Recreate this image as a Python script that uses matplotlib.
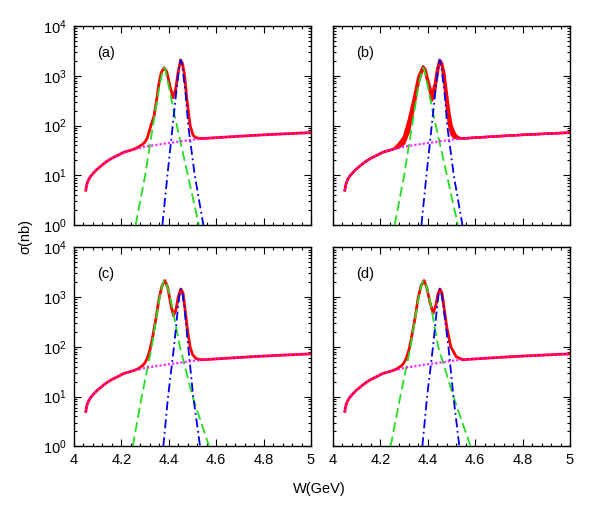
import numpy as np
import matplotlib
matplotlib.use("Agg")
import matplotlib.pyplot as plt
from matplotlib.ticker import FixedLocator, LogLocator, NullFormatter, FuncFormatter

plt.rcParams['font.family'] = ['Liberation Sans', 'DejaVu Sans']
plt.rcParams['mathtext.fontset'] = 'custom'
plt.rcParams['mathtext.rm'] = 'Liberation Sans'
plt.rcParams['mathtext.default'] = 'regular'

# ---------------- data ----------------
panel_labels = ["(a)", "(b)", "(c)", "(d)"]
x_ticks = [4.0, 4.2, 4.4, 4.6, 4.8, 5.0]
x_tick_labels = ["4", "4.2", "4.4", "4.6", "4.8", "5"]

# background (magenta dotted), common to all panels
bkg_W = [4.05, 4.053, 4.057, 4.062, 4.07, 4.08, 4.095, 4.11, 4.125, 4.14, 4.16, 4.18,
         4.21, 4.25, 4.30, 4.35, 4.40, 4.45, 4.50, 4.55, 4.60, 4.70, 4.80, 4.90, 5.00]
bkg_s = [5.0, 6.2, 7.2, 8.2, 9.5, 10.8, 12.9, 14.8, 17.0, 19.2, 22.0, 24.5,
         29.0, 33.0, 37.5, 41.0, 44.5, 48.0, 52.0, 55.0, 57.0, 61.0, 65.0, 68.5, 72.0]

# green dashed resonance
green_a_W = [4.26, 4.30, 4.333, 4.36, 4.375, 4.38, 4.385, 4.40, 4.42, 4.45, 4.485, 4.527]
green_a_s = [1, 9.7, 98, 600, 1300, 1450, 1350, 620, 200, 45, 8, 1]
green_b_W = green_a_W
green_b_s = green_a_s
green_c_W = [4.248, 4.286, 4.328, 4.36, 4.375, 4.383, 4.39, 4.41, 4.447, 4.50, 4.57]
green_c_s = [1, 10, 100, 900, 1900, 2150, 1950, 800, 100, 10, 1]
green_d_W = [4.243, 4.284, 4.327, 4.36, 4.375, 4.384, 4.391, 4.41, 4.444, 4.508, 4.58]
green_d_s = [1, 10, 100, 900, 1900, 2150, 1950, 800, 100, 10, 1]

# blue dash-dot resonance
blue_a_W = [4.373, 4.394, 4.412, 4.43, 4.445, 4.45, 4.455, 4.47, 4.482, 4.51, 4.546]
blue_a_s = [1, 9.7, 62, 400, 1700, 2080, 1800, 500, 100, 9.7, 1]
blue_b_W = blue_a_W
blue_b_s = blue_a_s
blue_c_W = [4.377, 4.397, 4.422, 4.44, 4.447, 4.451, 4.456, 4.465, 4.482, 4.503, 4.532]
blue_c_s = [1, 10, 100, 700, 1300, 1450, 1300, 700, 100, 10, 1]
blue_d_W = [4.377, 4.397, 4.422, 4.44, 4.447, 4.451, 4.456, 4.465, 4.487, 4.508, 4.533]
blue_d_s = [1, 10, 100, 700, 1300, 1450, 1300, 700, 100, 10, 1]

# red total (peak region; joins background outside)
red_a_W = [4.27, 4.29, 4.30, 4.31, 4.316, 4.326, 4.338, 4.347, 4.359, 4.368, 4.38, 4.391,
           4.405, 4.418, 4.429, 4.439, 4.45, 4.458, 4.467, 4.475, 4.49, 4.503, 4.515, 4.531, 4.55]
red_a_s = [36.5, 42, 47, 57, 72, 105, 155, 290, 725, 1150, 1450, 1230,
           620, 363, 535, 1150, 2080, 1750, 1000, 380, 100, 63, 57, 55, 55]

red_b_W = [4.26, 4.28, 4.30, 4.32, 4.34, 4.36, 4.38, 4.39, 4.405, 4.418, 4.43, 4.44,
           4.45, 4.46, 4.47, 4.48, 4.49, 4.50, 4.51, 4.52, 4.535]
red_b_hi = [35, 44, 60, 130, 330, 950, 1550, 1350, 700, 420, 700, 1400,
            2100, 1800, 1100, 450, 190, 100, 75, 62, 56]
red_b_lo = [34, 37, 43, 75, 210, 700, 1400, 1150, 560, 320, 480, 1000,
            2000, 1550, 700, 230, 100, 66, 58, 56, 55]

red_c_W = [4.27, 4.29, 4.30, 4.31, 4.32, 4.33, 4.345, 4.36, 4.372, 4.383, 4.395, 4.41,
           4.42, 4.43, 4.44, 4.451, 4.46, 4.47, 4.48, 4.49, 4.50, 4.515, 4.535]
red_c_s = [36, 42, 48, 60, 85, 140, 350, 1000, 1700, 2150, 1600, 650,
           420, 550, 1000, 1450, 1200, 500, 200, 100, 70, 58, 55]
red_d_W = [4.27, 4.29, 4.30, 4.31, 4.32, 4.33, 4.345, 4.36, 4.372, 4.384, 4.395, 4.41,
           4.423, 4.433, 4.442, 4.451, 4.46, 4.47, 4.48, 4.497, 4.52, 4.547]
red_d_s = [36, 42, 48, 60, 85, 140, 350, 1000, 1700, 2150, 1600, 750,
           475, 650, 1100, 1450, 1200, 550, 250, 100, 63, 55]


def join_total(W, s):
    W = list(W); s = list(s)
    lw = [w for w in bkg_W if w < W[0]]
    ls = [bs for w, bs in zip(bkg_W, bkg_s) if w < W[0]]
    hw = [w for w in bkg_W if w > W[-1]]
    hs = [bs for w, bs in zip(bkg_W, bkg_s) if w > W[-1]]
    return lw + W + hw, ls + s + hs


RED = '#ff0000'
GREEN = '#22dd22'
BLUE = '#0000ee'
MAG = '#ff00ff'
FS = 10.5

fig = plt.figure(figsize=(6.0, 5.25), dpi=100)
W_ax = 0.395
H_ax = 0.379
positions = [(0.1233, 0.5714), (0.555, 0.5714), (0.1233, 0.150), (0.555, 0.150)]

greens = [(green_a_W, green_a_s), (green_b_W, green_b_s), (green_c_W, green_c_s), (green_d_W, green_d_s)]
blues = [(blue_a_W, blue_a_s), (blue_b_W, blue_b_s), (blue_c_W, blue_c_s), (blue_d_W, blue_d_s)]

for i, (x0, y0) in enumerate(positions):
    ax = fig.add_axes([x0, y0, W_ax, H_ax])
    ax.set_yscale('log')
    ax.set_xlim(4.0, 5.0)
    ax.set_ylim(1, 1e4)

    # red total
    if i == 1:
        lw_, lo_ = join_total(red_b_W, red_b_lo)
        _, hi_ = join_total(red_b_W, red_b_hi)
        ax.fill_between(lw_, lo_, hi_, color=RED, lw=0, zorder=2)
        ax.plot(lw_, lo_, color=RED, lw=1.8, zorder=2)
        ax.plot(lw_, hi_, color=RED, lw=1.8, zorder=2)
    else:
        rW, rs = {0: (red_a_W, red_a_s), 2: (red_c_W, red_c_s), 3: (red_d_W, red_d_s)}[i]
        tW, ts = join_total(rW, rs)
        ax.plot(tW, ts, color=RED, lw=2.0, zorder=2)

    gW, gs = greens[i]
    ax.plot(gW, gs, color=GREEN, lw=1.3, ls=(0, (5.5, 2.5)), zorder=3)
    bW, bs = blues[i]
    ax.plot(bW, bs, color=BLUE, lw=1.3, ls=(0, (5, 2, 1, 2)), zorder=3)
    ax.plot(bkg_W, bkg_s, color=MAG, lw=1.6, ls=(0, (1, 0.9)), alpha=0.85, zorder=4)

    ax.text(0.097, 0.864, panel_labels[i], transform=ax.transAxes,
            ha='left', va='center', fontsize=FS)

    ax.xaxis.set_major_locator(FixedLocator(x_ticks))
    ax.xaxis.set_minor_locator(FixedLocator(list(np.arange(4.0, 5.0001, 0.04))))
    ax.yaxis.set_major_locator(LogLocator(base=10, numticks=10))
    ax.yaxis.set_minor_locator(LogLocator(base=10, subs=np.arange(2, 10), numticks=10))
    ax.yaxis.set_minor_formatter(NullFormatter())
    ax.tick_params(which='both', direction='in', top=True, right=True, labelsize=FS, width=0.8)
    ax.tick_params(which='major', length=5, pad=5)
    ax.tick_params(which='minor', length=2.5)
    for sp in ax.spines.values():
        sp.set_linewidth(1.0)

    if i in (2, 3):
        ax.set_xticklabels(x_tick_labels)
    else:
        ax.set_xticklabels([])
    if i in (0, 2):
        ax.yaxis.set_major_formatter(FuncFormatter(lambda v, p: r'$10^{%d}$' % int(round(np.log10(v)))))
    else:
        ax.set_yticklabels([])

fig.text(0.043, 0.55, 'σ(nb)', rotation=90, ha='center', va='center', fontsize=FS)
fig.text(0.533, 0.069, 'W(GeV)', ha='center', va='center', fontsize=FS)

fig.savefig('out.png', dpi=100)
